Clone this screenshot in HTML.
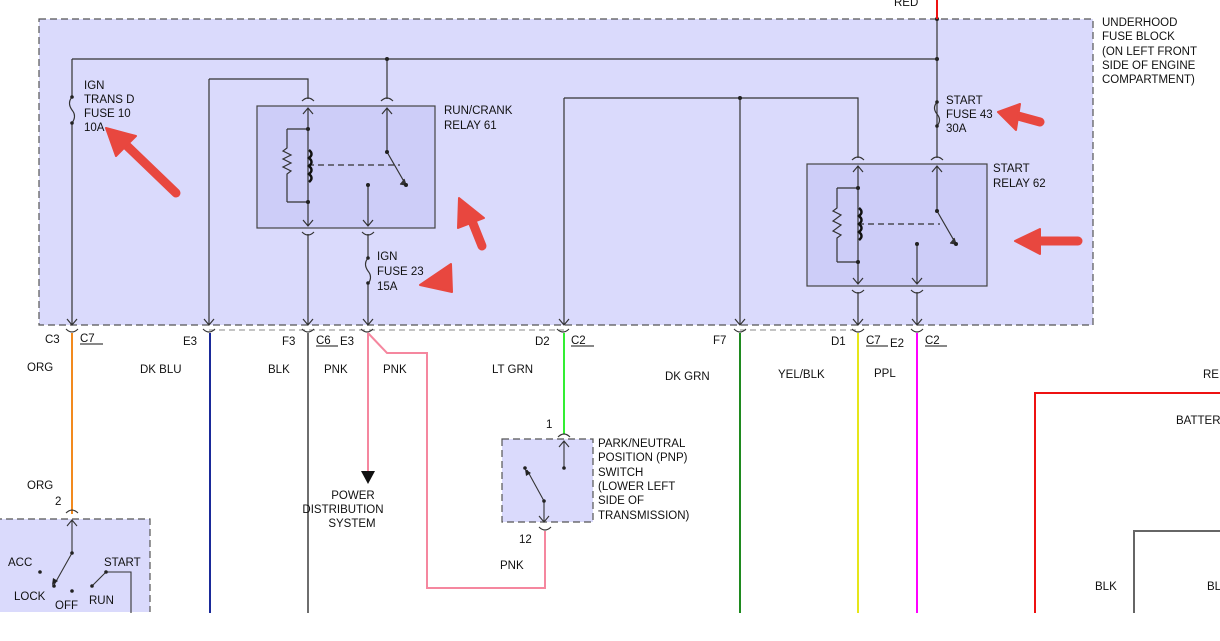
<!DOCTYPE html>
<html><head><meta charset="utf-8"><style>
html,body{margin:0;padding:0;background:#fff;}
svg{display:block;}
text{font-family:"Liberation Sans",Arial,sans-serif;font-size:11.5px;fill:#111;}
</style></head><body>
<svg width="1220" height="641" viewBox="0 0 1220 641" xmlns="http://www.w3.org/2000/svg">
<defs>
<marker id="au" viewBox="0 0 10 10" refX="5" refY="0" markerWidth="8" markerHeight="8" orient="auto"><path d="M1,6 L5,0 L9,6" fill="none" stroke="#222" stroke-width="1.2"/></marker>
</defs>
<!-- fuse block -->
<rect x="39" y="19" width="1054" height="306" fill="#dadafc" stroke="#555" stroke-width="1.2" stroke-dasharray="7,4"/>
<rect x="257" y="106" width="178" height="122" fill="#cdcdf8" stroke="#444" stroke-width="1.2"/>
<rect x="807" y="164" width="180" height="122" fill="#cdcdf8" stroke="#444" stroke-width="1.2"/>

<g stroke="#333" stroke-width="1.2" fill="none">
<!-- top bus -->
<path d="M72,59 H937"/>
<path d="M937,19 V158"/>
<path d="M72,59 V96 M72,124 V325"/>
<path d="M72,97 q-5,6 0,13 q5,6 0,13"/>
<path d="M209,79 H308 V99"/>
<path d="M209,79 V325"/>
<path d="M387,59 V99"/>
<!-- relay 61 -->
<path d="M302,101 q6,-6 12,0 M381,101 q6,-6 12,0"/>
<path d="M308,108 V226 M387,108 V152 L406,185"/>
<path d="M303,114 L308,108 L313,114 M382,114 L387,108 L392,114"/>
<path d="M287,129 H308 M287,202 H308 M287,129 V148 l-4,3 l8,4 l-8,4 l8,4 l-8,4 l8,4 l-4,3 V202"/>
<path d="M308,165 H400" stroke-dasharray="6,4"/>
<path d="M368,185 V226 M363,220 L368,226 L373,220 M303,220 L308,226 L313,220"/>
<path d="M302,232 q6,6 12,0 M362,232 q6,6 12,0"/>
<path d="M308,234 V325 M368,234 V258 M368,284 V325"/>
<path d="M368,258 q-5,6 0,13 q5,6 0,13"/>
<path d="M303,319 L308,325 L313,319 M363,319 L368,325 L373,319 M67,319 L72,325 L77,319 M204,319 L209,325 L214,319 M559,319 L564,325 L569,319 M735,319 L740,325 L745,319 M853,319 L858,325 L863,319 M912,319 L917,325 L922,319"/>
<!-- inner bus -->
<path d="M564,98 H858 V158 M564,98 V325 M740,98 V325"/>
<path d="M852,160 q6,-6 12,0 M931,160 q6,-6 12,0"/>
<path d="M937,102 q-5,6 0,12 q5,6 0,12"/>
<!-- relay 62 -->
<path d="M858,166 V284 M937,166 V211 L956,244"/>
<path d="M853,172 L858,166 L863,172 M932,172 L937,166 L942,172"/>
<path d="M837,188 H858 M837,262 H858 M837,188 V208 l-4,3 l8,4 l-4,3 l-4,3 l8,4 l-4,3 l-4,3 l8,4 l-4,3 V262"/>
<path d="M858,224 H940" stroke-dasharray="6,4"/>
<path d="M917,244 V284 M912,278 L917,284 L922,278 M853,278 L858,284 L863,278"/>
<path d="M852,290 q6,6 12,0 M911,290 q6,6 12,0"/>
<path d="M858,292 V325 M917,292 V325"/>
<path d="M400,184 l6,1 l-2,-6" fill="#333"/>
<path d="M950,243 l6,1 l-2,-6" fill="#333"/>
</g>
<g fill="#222">
<circle cx="387" cy="59" r="2"/><circle cx="937" cy="59" r="2"/><circle cx="937" cy="19" r="2"/>
<circle cx="740" cy="98" r="2"/><circle cx="72" cy="97" r="1.8"/><circle cx="72" cy="123" r="1.8"/>
<circle cx="308" cy="129" r="2"/><circle cx="308" cy="202" r="2"/><circle cx="387" cy="152" r="2"/><circle cx="406" cy="185" r="2"/><circle cx="368" cy="185" r="2"/>
<circle cx="368" cy="258" r="1.8"/><circle cx="368" cy="283" r="1.8"/>
<circle cx="937" cy="102" r="1.8"/><circle cx="937" cy="126" r="1.8"/>
<circle cx="858" cy="188" r="2"/><circle cx="858" cy="262" r="2"/><circle cx="937" cy="211" r="2"/><circle cx="956" cy="244" r="2"/><circle cx="917" cy="244" r="2"/>
</g>
<g fill="none" stroke="#111" stroke-width="2.5">
<path d="M309,150 q5,4 0,8 q5,4 0,8 q5,4 0,8 q5,4 0,8"/>
<path d="M859,208 q5,4 0,8 q5,4 0,8 q5,4 0,8 q5,4 0,8"/>
</g>
<path d="M937,0 V19" stroke="#ee1111" stroke-width="2"/>

<!-- connectors row -->
<path d="M209,330 H564 M740,330 H858" stroke="#888" stroke-width="1" stroke-dasharray="6,4" fill="none"/>
<g stroke="#333" stroke-width="1.1" fill="none">
<path d="M66,329 q6,6 12,0 M203,329 q6,6 12,0 M302,329 q6,6 12,0 M361,329 q6,6 12,0 M557,329 q6,6 12,0 M734,329 q6,6 12,0 M852,329 q6,6 12,0 M911,329 q6,6 12,0"/>
</g>
<path d="M72,333 V514" stroke="#f28a1e" stroke-width="2"/>
<path d="M210,333 V613" stroke="#1a2a99" stroke-width="2"/>
<path d="M308,333 V613" stroke="#6e6e6e" stroke-width="2"/>
<path d="M368,333 V472 M368,333 L387,353 H427 V588 H545 V531" stroke="#f5879f" stroke-width="2" fill="none"/>
<path d="M361,471 L375,471 L368,484 Z" fill="#111"/>
<path d="M564,333 V434" stroke="#33ee33" stroke-width="2"/>
<path d="M740,333 V613" stroke="#1f8a1f" stroke-width="2"/>
<path d="M858,333 V613" stroke="#e6e61a" stroke-width="2"/>
<path d="M917,333 V613" stroke="#ff00ff" stroke-width="2"/>
<path d="M1035,613 V393 H1220" stroke="#ee1111" stroke-width="2" fill="none"/>
<path d="M1134,613 V531 H1220" stroke="#666" stroke-width="2" fill="none"/>

<!-- ignition switch -->
<rect x="-5" y="519" width="155" height="94" fill="#dadafc" stroke="#555" stroke-width="1.2" stroke-dasharray="7,4"/>
<rect x="-5" y="612" width="160" height="4" fill="#fff"/>
<g stroke="#333" stroke-width="1.1" fill="none">
<path d="M66,513 q6,-6 12,0"/>
<path d="M72,520 V553 L54,585 M67,526 L72,520 L77,526"/>
<path d="M92,586 L106,572 H131 V613"/>
</g>
<path d="M52,585 l1,-7 l5,3 Z" fill="#222"/>
<g fill="#222"><circle cx="72" cy="553" r="1.8"/><circle cx="40" cy="572" r="1.8"/><circle cx="54" cy="586" r="1.8"/><circle cx="72" cy="591" r="1.8"/><circle cx="92" cy="586" r="1.8"/><circle cx="106" cy="572" r="1.8"/></g>

<!-- PNP switch -->
<rect x="502" y="439" width="91" height="83" fill="#dadafc" stroke="#555" stroke-width="1.2" stroke-dasharray="7,4"/>
<g stroke="#333" stroke-width="1.1" fill="none">
<path d="M558,437 q6,-6 12,0"/>
<path d="M564,441 V468 M559,447 L564,441 L569,447"/>
<path d="M544,501 L527,470 M544,501 V522 M539,516 L544,522 L549,516"/>
<path d="M539,527 q6,6 12,0"/>
</g>
<path d="M525,469 l1,7 l5,-3 Z" fill="#222"/>
<g fill="#222"><circle cx="564" cy="468" r="1.8"/><circle cx="525" cy="468" r="1.8"/><circle cx="544" cy="501" r="1.8"/></g>

<!-- red annotation arrows -->
<g fill="#e8473f" stroke="#e8473f" stroke-linecap="round">
<path d="M176,193 L124,143" stroke-width="9"/>
<path d="M106,128 L136,136 L116,156 Z" stroke-width="2" stroke-linejoin="round"/>
<path d="M482,246 L470,216" stroke-width="9"/>
<path d="M459,198 L484,218 L458,228 Z" stroke-width="2" stroke-linejoin="round"/>
<path d="M420,285 L451,264 L452,292 Z" stroke-width="2" stroke-linejoin="round"/>
<path d="M1040,122 L1018,116" stroke-width="9"/>
<path d="M998,112 L1020,104 L1016,130 Z" stroke-width="2" stroke-linejoin="round"/>
<path d="M1078,241 L1040,241" stroke-width="9"/>
<path d="M1015,241 L1040,229 L1040,254 Z" stroke-width="2" stroke-linejoin="round"/>
</g>

<!-- labels -->
<text x="894" y="6">RED</text>
<text x="84" y="89">IGN</text><text x="84" y="103">TRANS D</text><text x="84" y="117">FUSE 10</text><text x="84" y="131">10A</text>
<text x="444" y="114">RUN/CRANK</text><text x="444" y="129">RELAY 61</text>
<text x="377" y="260">IGN</text><text x="377" y="275">FUSE 23</text><text x="377" y="290">15A</text>
<text x="946" y="104">START</text><text x="946" y="118">FUSE 43</text><text x="946" y="132">30A</text>
<text x="993" y="172">START</text><text x="993" y="187">RELAY 62</text>
<text x="1102" y="26">UNDERHOOD</text><text x="1102" y="40">FUSE BLOCK</text><text x="1102" y="55">(ON LEFT FRONT</text><text x="1102" y="69">SIDE OF ENGINE</text><text x="1102" y="83">COMPARTMENT)</text>

<text x="45" y="343">C3</text><text x="80" y="342">C7</text><path d="M80,344 H103" stroke="#111"/>
<text x="183" y="345">E3</text>
<text x="282" y="345">F3</text><text x="316" y="344">C6</text><path d="M316,346 H338" stroke="#111"/><text x="340" y="345">E3</text>
<text x="535" y="345">D2</text><text x="571" y="344">C2</text><path d="M571,346 H594" stroke="#111"/>
<text x="713" y="344">F7</text>
<text x="831" y="345">D1</text><text x="866" y="344">C7</text><path d="M866,346 H888" stroke="#111"/><text x="890" y="347">E2</text>
<text x="925" y="344">C2</text><path d="M925,346 H947" stroke="#111"/>

<text x="27" y="371">ORG</text><text x="140" y="373">DK BLU</text><text x="268" y="373">BLK</text><text x="324" y="373">PNK</text><text x="383" y="373">PNK</text><text x="492" y="373">LT GRN</text>
<text x="665" y="380">DK GRN</text><text x="778" y="378">YEL/BLK</text><text x="874" y="377">PPL</text>
<text x="1203" y="378">RE</text><text x="1176" y="424">BATTERY</text>
<text x="1095" y="590">BLK</text><text x="1207" y="590">BLK</text>
<text x="27" y="489">ORG</text><text x="55" y="505">2</text>
<text x="8" y="566">ACC</text><text x="104" y="566">START</text><text x="14" y="600">LOCK</text><text x="55" y="609">OFF</text><text x="89" y="604">RUN</text>
<text x="353" y="499" text-anchor="middle">POWER</text><text x="343" y="513" text-anchor="middle">DISTRIBUTION</text><text x="352" y="527" text-anchor="middle">SYSTEM</text>
<text x="546" y="428">1</text><text x="519" y="543">12</text><text x="500" y="569">PNK</text>
<text x="598" y="447">PARK/NEUTRAL</text><text x="598" y="461">POSITION (PNP)</text><text x="598" y="476">SWITCH</text><text x="598" y="490">(LOWER LEFT</text><text x="598" y="504">SIDE OF</text><text x="598" y="519">TRANSMISSION)</text>
<rect x="0" y="614" width="1220" height="27" fill="#fff"/>
</svg>
</body></html>
